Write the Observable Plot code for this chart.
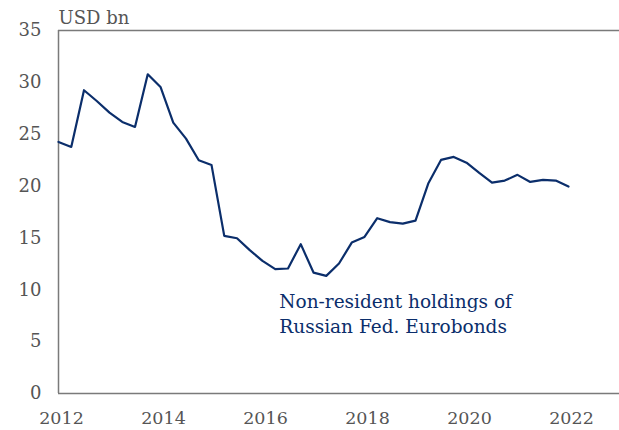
<!DOCTYPE html>
<html>
<head>
<meta charset="utf-8">
<script src="https://cdn.jsdelivr.net/npm/d3@7"></script>
<script src="https://cdn.jsdelivr.net/npm/@observablehq/plot@0.6"></script>
<style>
  html, body { margin: 0; padding: 0; background: #fff; }
  svg { display: block; }
</style>
</head>
<body>
<div id="chart"></div>
<script>
// Quarterly observations, 2012 Q1 – 2022 Q1 (USD bn)
const startYear = 2012;
const holdings = [
  24.25, 23.77, 29.24, 28.2,
  27.08, 26.18, 25.7, 30.78,
  29.56, 26.12, 24.57, 22.49,
  22.04, 15.2, 14.97, 13.82,
  12.79, 11.99, 12.05, 14.4,
  11.66, 11.34, 12.53, 14.55,
  15.1, 16.9, 16.52, 16.38,
  16.67, 20.24, 22.52, 22.81,
  22.26, 21.27, 20.33, 20.53,
  21.08, 20.4, 20.59, 20.53,
  19.95
];
const xTicks = [2012, 2014, 2016, 2018, 2020, 2022];
const yTicks = [0, 5, 10, 15, 20, 25, 30, 35];
const unitLabel = ["USD bn"];
const annotation = [{t: 2016.33, v: 7.8, text: "Non-resident holdings of\nRussian Fed. Eurobonds"}];

const data = holdings.map((v, i) => ({t: startYear + i / 4, v}));

const font = "'DejaVu Serif', serif";
const chart = Plot.plot({
  width: 619,
  height: 430,
  marginTop: 30,
  marginBottom: 37,
  marginLeft: 58,
  marginRight: 0,
  style: {fontFamily: font, fontSize: "18px", background: "#fff"},
  x: {domain: [2012, 2023], label: null},
  y: {domain: [0, 35], label: null},
  marks: [
    Plot.axisX({ticks: xTicks, tickSize: 0, tickPadding: 18, tickFormat: d => String(d), fill: "#555", fontSize: 17.5, dx: 3}),
    Plot.axisY({ticks: yTicks, tickSize: 0, tickPadding: 17, fill: "#555", fontSize: 18}),
    Plot.ruleY([0, 35], {stroke: "#7a7a7a", strokeWidth: 1.5}),
    Plot.ruleX([2012], {stroke: "#7a7a7a", strokeWidth: 1.5}),
    Plot.line(data, {x: "t", y: "v", stroke: "#0b2e6b", strokeWidth: 2.2}),
    Plot.text(annotation, {x: "t", y: "v", text: "text", textAnchor: "start", fill: "#0b2e6b", fontSize: 18.5, lineHeight: 1.35}),
    Plot.text(unitLabel, {frameAnchor: "top-left", text: d => d, textAnchor: "start", dy: -19, fill: "#555", fontSize: 18})
  ]
});
document.getElementById("chart").appendChild(chart);
</script>
</body>
</html>
